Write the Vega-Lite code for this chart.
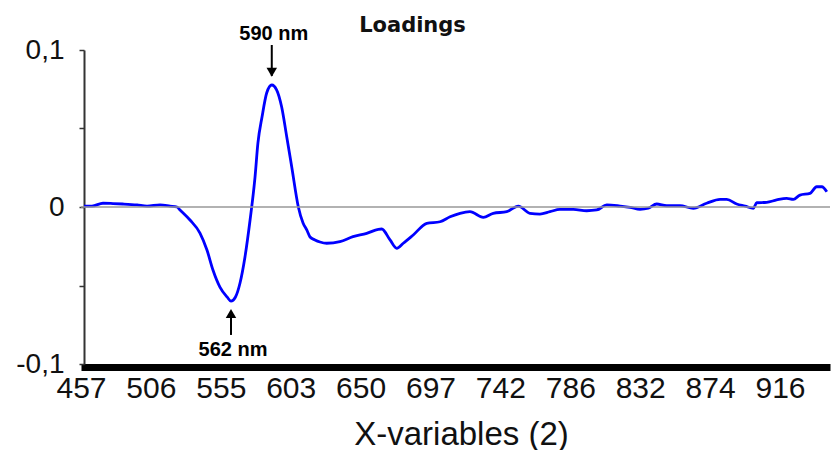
{
  "$schema": "https://vega.github.io/schema/vega-lite/v6.json",
  "width": 749,
  "height": 314,
  "autosize": {"type": "none"},
  "padding": {"left": 81, "top": 50, "right": 1, "bottom": 86},
  "background": "white",
  "config": {"view": {"stroke": null}},
  "title": {
    "text": "Loadings",
    "font": "DejaVu Sans",
    "fontSize": 21,
    "fontWeight": "bold",
    "color": "#111111",
    "frame": "group",
    "anchor": "middle",
    "dx": -43,
    "baseline": "alphabetic",
    "offset": -29
  },
  "datasets": {
    "curve": [
      {"wavelength": 459.1, "loading": 0.0006},
      {"wavelength": 464.7, "loading": 0.0006},
      {"wavelength": 472.4, "loading": 0.0024},
      {"wavelength": 479.4, "loading": 0.0022},
      {"wavelength": 486.4, "loading": 0.0019},
      {"wavelength": 496.3, "loading": 0.0013},
      {"wavelength": 503.3, "loading": 0.0006},
      {"wavelength": 512.4, "loading": 0.0013},
      {"wavelength": 519.4, "loading": 0.0006},
      {"wavelength": 524.3, "loading": 0.0},
      {"wavelength": 526.4, "loading": -0.0019},
      {"wavelength": 533.4, "loading": -0.0083},
      {"wavelength": 540.4, "loading": -0.0166},
      {"wavelength": 545.3, "loading": -0.0274},
      {"wavelength": 549.5, "loading": -0.0401},
      {"wavelength": 554.4, "loading": -0.051},
      {"wavelength": 559.3, "loading": -0.0573},
      {"wavelength": 562.0, "loading": -0.06},
      {"wavelength": 565.0, "loading": -0.0575},
      {"wavelength": 568.2, "loading": -0.0484},
      {"wavelength": 571.6, "loading": -0.0318},
      {"wavelength": 575.1, "loading": -0.0083},
      {"wavelength": 578.5, "loading": 0.0191},
      {"wavelength": 580.5, "loading": 0.0408},
      {"wavelength": 583.3, "loading": 0.0573},
      {"wavelength": 586.5, "loading": 0.0726},
      {"wavelength": 590.0, "loading": 0.0777},
      {"wavelength": 593.4, "loading": 0.0745},
      {"wavelength": 596.8, "loading": 0.0637},
      {"wavelength": 600.3, "loading": 0.0446},
      {"wavelength": 603.7, "loading": 0.0255},
      {"wavelength": 608.1, "loading": 0.0002},
      {"wavelength": 611.3, "loading": -0.0102},
      {"wavelength": 613.8, "loading": -0.0146},
      {"wavelength": 616.0, "loading": -0.0191},
      {"wavelength": 619.3, "loading": -0.021},
      {"wavelength": 622.7, "loading": -0.0223},
      {"wavelength": 627.2, "loading": -0.0231},
      {"wavelength": 636.1, "loading": -0.0221},
      {"wavelength": 644.9, "loading": -0.0189},
      {"wavelength": 654.1, "loading": -0.0168},
      {"wavelength": 661.9, "loading": -0.0142},
      {"wavelength": 664.2, "loading": -0.014},
      {"wavelength": 669.8, "loading": -0.021},
      {"wavelength": 674.3, "loading": -0.0263},
      {"wavelength": 678.7, "loading": -0.0231},
      {"wavelength": 685.4, "loading": -0.0178},
      {"wavelength": 694.5, "loading": -0.0104},
      {"wavelength": 703.1, "loading": -0.0094},
      {"wavelength": 709.6, "loading": -0.0062},
      {"wavelength": 716.0, "loading": -0.004},
      {"wavelength": 722.4, "loading": -0.003},
      {"wavelength": 731.0, "loading": -0.0066},
      {"wavelength": 737.4, "loading": -0.004},
      {"wavelength": 746.0, "loading": -0.003},
      {"wavelength": 753.3, "loading": 0.0006},
      {"wavelength": 760.6, "loading": -0.004},
      {"wavelength": 766.9, "loading": -0.0045},
      {"wavelength": 773.2, "loading": -0.003},
      {"wavelength": 779.5, "loading": -0.0015},
      {"wavelength": 788.0, "loading": -0.0015},
      {"wavelength": 796.8, "loading": -0.0024},
      {"wavelength": 803.4, "loading": -0.0019},
      {"wavelength": 810.0, "loading": 0.0013},
      {"wavelength": 818.7, "loading": 0.0006},
      {"wavelength": 825.3, "loading": -0.0002},
      {"wavelength": 831.9, "loading": -0.0015},
      {"wavelength": 836.9, "loading": -0.0008},
      {"wavelength": 841.9, "loading": 0.0019},
      {"wavelength": 847.9, "loading": 0.0008},
      {"wavelength": 855.9, "loading": 0.0008},
      {"wavelength": 863.9, "loading": -0.0008},
      {"wavelength": 871.9, "loading": 0.0024},
      {"wavelength": 880.0, "loading": 0.0049},
      {"wavelength": 884.0, "loading": 0.0049},
      {"wavelength": 890.0, "loading": 0.0019},
      {"wavelength": 895.0, "loading": 0.0006},
      {"wavelength": 900.0, "loading": -0.0008},
      {"wavelength": 902.0, "loading": 0.0027},
      {"wavelength": 908.0, "loading": 0.003},
      {"wavelength": 914.0, "loading": 0.0045},
      {"wavelength": 920.0, "loading": 0.0055},
      {"wavelength": 924.0, "loading": 0.0049},
      {"wavelength": 928.0, "loading": 0.0076},
      {"wavelength": 934.0, "loading": 0.0087},
      {"wavelength": 938.0, "loading": 0.0129},
      {"wavelength": 941.1, "loading": 0.0129},
      {"wavelength": 944.1, "loading": 0.0097}
    ],
    "zero": [{"loading": 0}],
    "notes": [
      {"label": "590 nm", "wavelength": 590, "tail": 0.1032, "tip": 0.0835, "head": 0.0858, "textY": 0.1099, "dir": "down"},
      {"label": "562 nm", "wavelength": 562, "tail": -0.0815, "tip": -0.0665, "head": -0.0678, "textY": -0.0908, "dir": "up"}
    ]
  },
  "layer": [
    {
      "data": {"name": "curve"},
      "mark": {"type": "line", "color": "#0000ff", "strokeWidth": 2.8, "interpolate": "monotone"},
      "encoding": {
        "x": {
          "field": "wavelength",
          "type": "quantitative",
          "title": "X-variables (2)",
          "scale": {
            "domain": [457, 506, 555, 603, 650, 697, 742, 786, 832, 874, 916, 946],
            "range": [0, 69.9, 139.8, 209.7, 279.6, 349.5, 419.4, 489.3, 559.2, 629.1, 699, 749],
            "nice": false,
            "zero": false
          },
          "axis": {
            "values": [457, 506, 555, 603, 650, 697, 742, 786, 832, 874, 916],
            "labelFlush": false,
            "labelOverlap": false,
            "ticks": false,
            "tickSize": 0,
            "grid": false,
            "domainColor": "#000000",
            "domainWidth": 7,
            "offset": 3,
            "labelFont": "Liberation Sans",
            "labelFontSize": 30,
            "labelColor": "#111111",
            "labelBaseline": "alphabetic",
            "labelPadding": 30,
            "title": "X-variables (2)",
            "titleFont": "Liberation Sans",
            "titleFontSize": 33,
            "titleFontWeight": "normal",
            "titleColor": "#111111",
            "titleX": 380,
            "titleY": 77,
            "titleAlign": "center",
            "titleBaseline": "alphabetic"
          }
        },
        "y": {
          "field": "loading",
          "type": "quantitative",
          "title": "",
          "scale": {"domain": [-0.1, 0.1], "nice": false, "zero": false},
          "axis": {
            "values": [-0.1, -0.05, 0, 0.05, 0.1],
            "labelExpr": "abs(datum.value) < 0.001 ? '0' : abs(datum.value - 0.1) < 0.001 ? '0,1' : abs(datum.value + 0.1) < 0.001 ? '-0,1' : ''",
            "grid": false,
            "offset": -3,
            "domainColor": "#333333",
            "domainWidth": 2,
            "tickColor": "#333333",
            "tickSize": 5,
            "tickWidth": 1.5,
            "labelFont": "Liberation Sans",
            "labelFontSize": 28,
            "labelColor": "#111111",
            "labelPadding": 15,
            "labelOverlap": false,
            "labelFlush": false,
            "title": ""
          }
        }
      }
    },
    {
      "data": {"name": "zero"},
      "mark": {"type": "rule", "color": "#999999", "strokeWidth": 1.5},
      "encoding": {
        "y": {"field": "loading", "type": "quantitative", "title": ""}
      }
    },
    {
      "data": {"name": "notes"},
      "mark": {"type": "rule", "color": "#000000", "strokeWidth": 2},
      "encoding": {
        "x": {"field": "wavelength", "type": "quantitative", "title": "X-variables (2)"},
        "y": {"field": "tail", "type": "quantitative", "title": ""},
        "y2": {"field": "tip"}
      }
    },
    {
      "data": {"name": "notes"},
      "mark": {"type": "point", "filled": true, "color": "#000000", "opacity": 1, "size": 110},
      "encoding": {
        "x": {"field": "wavelength", "type": "quantitative", "title": "X-variables (2)"},
        "y": {"field": "head", "type": "quantitative", "title": ""},
        "shape": {
          "field": "dir",
          "type": "nominal",
          "scale": {"domain": ["down", "up"], "range": ["triangle-down", "triangle-up"]},
          "legend": null
        }
      }
    },
    {
      "data": {"name": "notes"},
      "mark": {"type": "text", "font": "Liberation Sans", "fontSize": 20, "fontWeight": "bold", "color": "#000000", "baseline": "middle", "align": "center", "dx": 2},
      "encoding": {
        "x": {"field": "wavelength", "type": "quantitative", "title": "X-variables (2)"},
        "y": {"field": "textY", "type": "quantitative", "title": ""},
        "text": {"field": "label"}
      }
    }
  ]
}
